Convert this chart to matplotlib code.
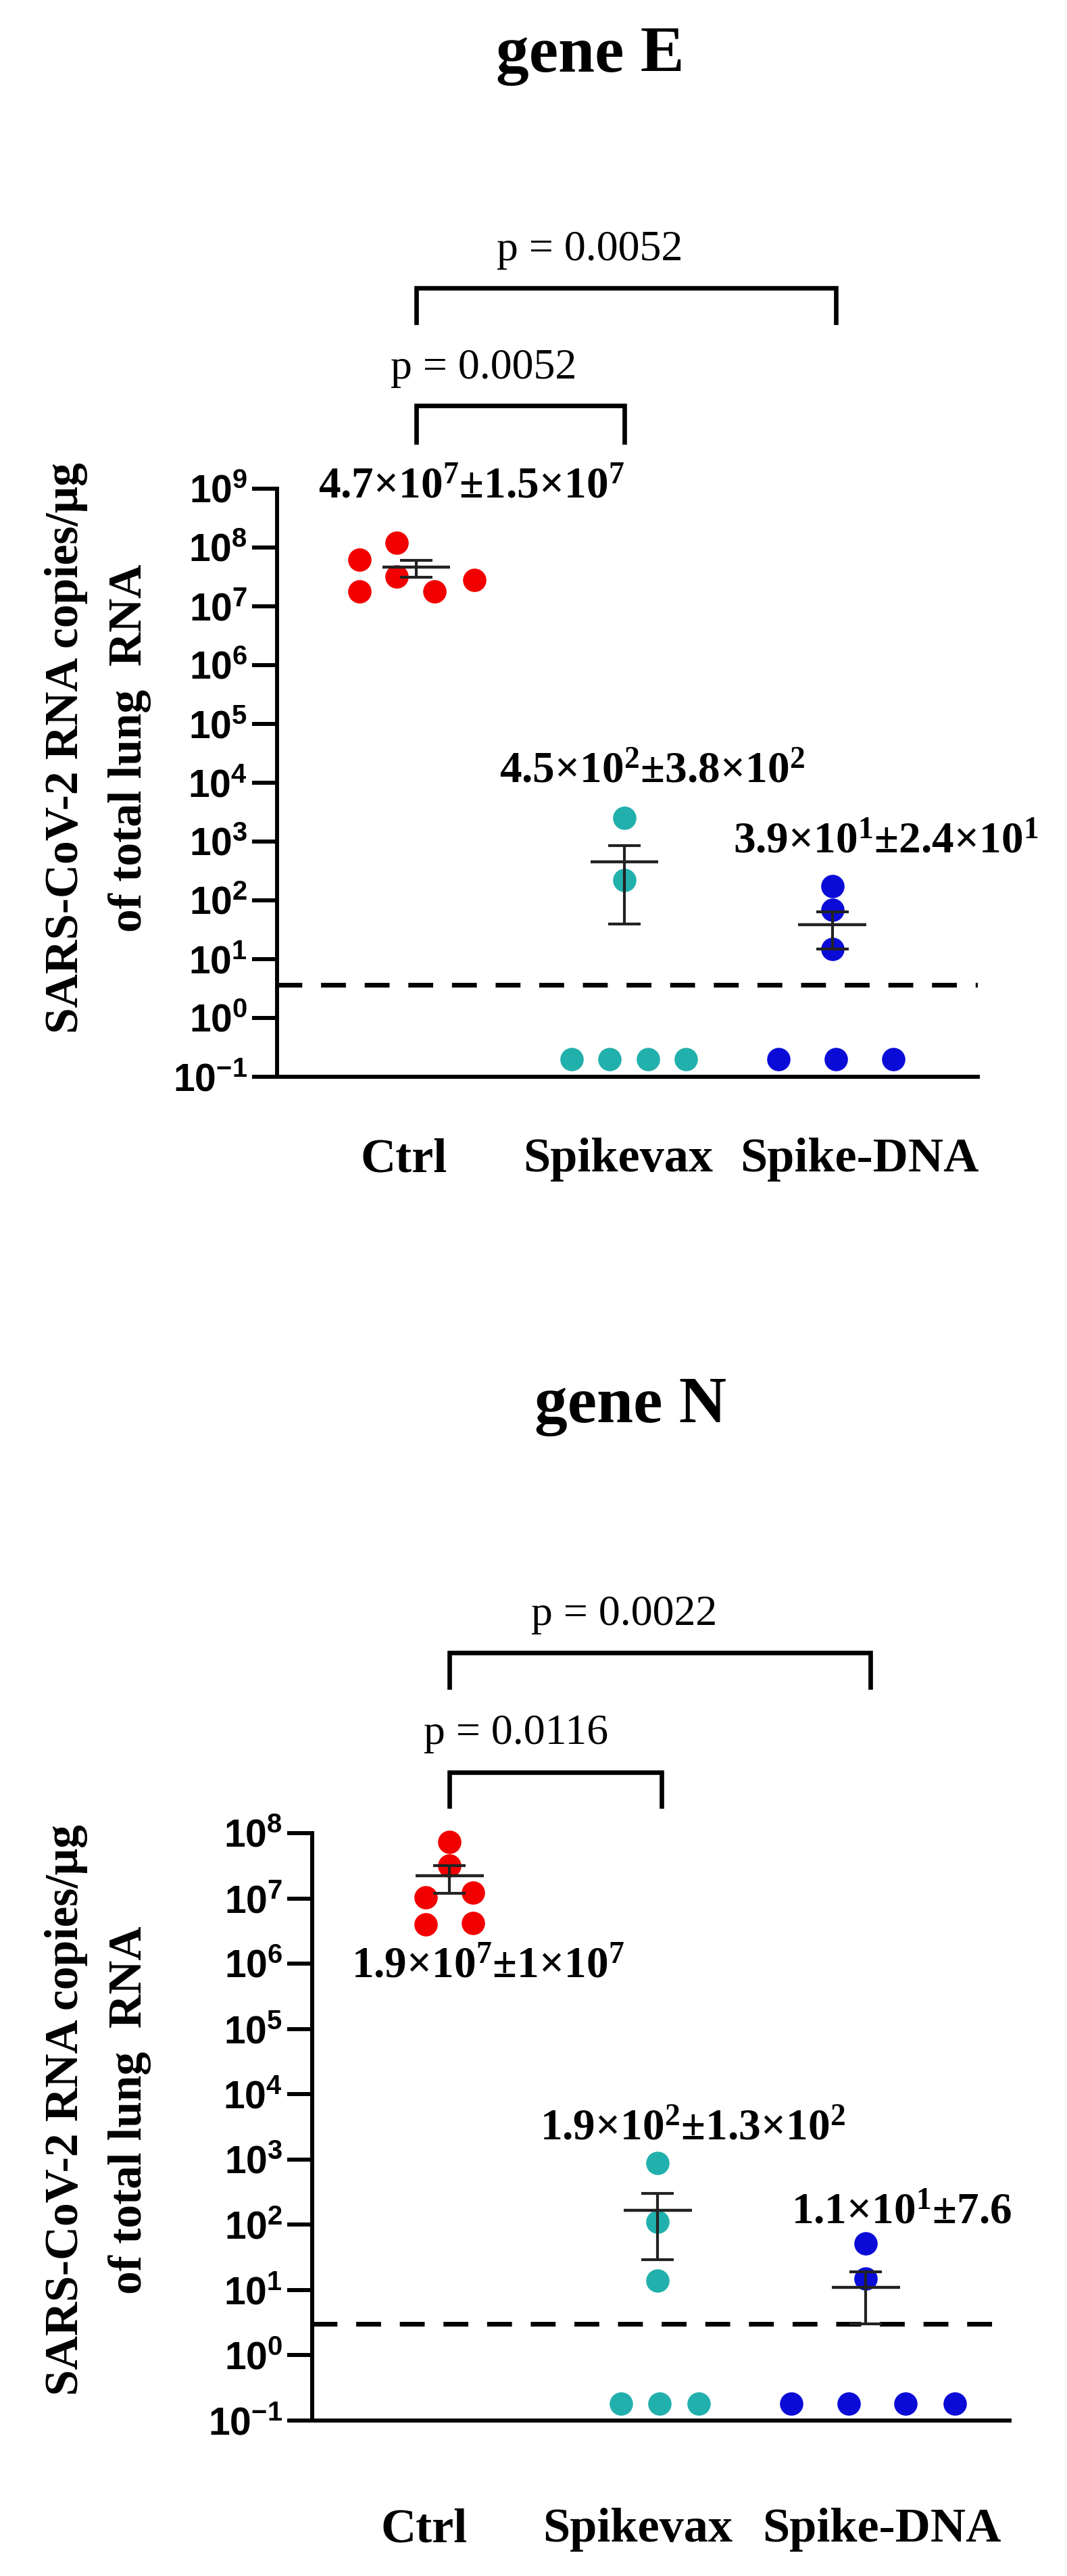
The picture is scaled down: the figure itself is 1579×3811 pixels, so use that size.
import numpy as np
import matplotlib
matplotlib.use("Agg")
import matplotlib.pyplot as plt
import matplotlib.transforms as mtransforms
from matplotlib.ticker import FixedLocator, FuncFormatter, NullLocator

# ---------------- data ----------------
groups = ["Ctrl", "Spikevax", "Spike-DNA"]
colors = ["#f20000", "#22b0ac", "#0b0bd8"]

# gene E (undetected samples drawn at the bottom value)
E_ctrl = [6.2e7, 1.2e8, 3.2e7, 1.8e7, 1.8e7, 2.8e7]
E_spikevax = [2.5e3, 2.2e2, 0.2, 0.2, 0.2, 0.2]
E_dna = [1.74e2, 6.9e1, 1.48e1, 0.2, 0.2, 0.2]
E_means = [4.6e7, 4.5e2, 3.9e1]
E_sems = [1.5e7, 4.1e2, 2.4e1]
E_lod = 3.7
E_labels = [r"$\mathbf{4.7{\times}10^{7}{\pm}1.5{\times}10^{7}}$",
            r"$\mathbf{4.5{\times}10^{2}{\pm}3.8{\times}10^{2}}$",
            r"$\mathbf{3.9{\times}10^{1}{\pm}2.4{\times}10^{1}}$"]
E_pvals = ["p = 0.0052", "p = 0.0052"]

# gene N
N_ctrl = [7.3e7, 3.2e7, 1.04e7, 1.23e7, 4.0e6, 4.2e6]
N_spikevax = [8.9e2, 1.12e2, 1.4e1, 0.18, 0.18, 0.18]
N_dna = [5.2e1, 1.5e1, 0.18, 0.18, 0.18, 0.18]
N_means = [2.2e7, 1.67e2, 1.1e1]
N_sems = [1.0e7, 1.38e2, 8.0]
N_lod = 3.05
N_labels = [r"$\mathbf{1.9{\times}10^{7}{\pm}1{\times}10^{7}}$",
            r"$\mathbf{1.9{\times}10^{2}{\pm}1.3{\times}10^{2}}$",
            r"$\mathbf{1.1{\times}10^{1}{\pm}7.6}$"]
N_pvals = ["p = 0.0116", "p = 0.0022"]

ylabel_1 = "SARS-CoV-2 RNA copies/\u03bcg"
ylabel_2 = "of total lung  RNA"

# ---------------- layout (positions, not data) ----------------
E_jitter = [[-0.273, -0.094, -0.094, -0.273, 0.088, 0.279],
            [0.0, 0.0, -0.253, -0.071, 0.114, 0.296],
            [0.0, 0.0, 0.0, -0.259, 0.018, 0.294]]
N_jitter = [[0.0, 0.0, -0.115, 0.113, -0.115, 0.113],
            [0.0, 0.0, 0.0, -0.177, 0.008, 0.197],
            [0.0, 0.0, -0.359, -0.083, 0.19, 0.427]]

plt.rcParams["font.family"] = ["Liberation Serif", "DejaVu Serif"]
plt.rcParams["mathtext.fontset"] = "custom"
plt.rcParams["mathtext.rm"] = "Liberation Serif"
plt.rcParams["mathtext.it"] = "Liberation Serif:italic"
plt.rcParams["mathtext.bf"] = "Liberation Serif:bold"
plt.rcParams["mathtext.sf"] = "Liberation Sans:bold"

W, H = 1579, 3811
fig = plt.figure(figsize=(W / 100, H / 100), dpi=100)
fig.patch.set_facecolor("white")


def px_axes(left, right, top, bottom):
    return fig.add_axes([left / W, 1 - bottom / H, (right - left) / W, (bottom - top) / H])


def draw_panel(ax, series, jitter, means, sems, lod, top_exp, labels, lab_pos,
               xlim, cat_pos, pvals, brackets, ptext_pos):
    ax.set_yscale("log")
    ax.set_ylim(0.1, 10.0 ** top_exp)
    ax.set_xlim(*xlim)
    ax.patch.set_alpha(0)
    for s in ["top", "right"]:
        ax.spines[s].set_visible(False)
    for s in ["left", "bottom"]:
        ax.spines[s].set_linewidth(4.3)
    ax.yaxis.set_major_locator(FixedLocator([10.0 ** e for e in range(-1, top_exp + 1)]))
    ax.yaxis.set_minor_locator(NullLocator())
    ax.yaxis.set_major_formatter(FuncFormatter(
        lambda v, p: r"$\mathsf{10^{%d}}$" % int(round(np.log10(v)))))
    ax.tick_params(axis="y", length=26.5, width=4.3, pad=5, labelsize=41)
    ax.set_xticks([])

    for i, (vals, dx) in enumerate(zip(series, jitter)):
        xs = i + np.array(dx)
        ax.scatter(xs, vals, s=620, color=colors[i], edgecolors=colors[i],
                   linewidths=0, zorder=2, clip_on=False)
        ax.errorbar(i, means[i], yerr=sems[i], fmt="none", ecolor="#222222",
                    elinewidth=3.0, capsize=17, capthick=3.0, zorder=4)
        ax.hlines(means[i], i - 0.163, i + 0.163, colors="#222222", lw=3.2, zorder=4)

    ax.axhline(lod, color="black", lw=5, dashes=(5.3, 4.0), zorder=1)

    trans = mtransforms.blended_transform_factory(ax.transData, ax.transAxes)
    for txt, (x, y) in zip(labels, lab_pos):
        ax.text(x, y, txt, transform=trans, ha="center", va="baseline",
                fontsize=47, clip_on=False)
    for g, x in zip(groups, cat_pos[0]):
        ax.text(x, cat_pos[1], g, transform=trans, ha="center", va="baseline",
                fontsize=52, fontweight="bold")
    for (x1, x2, yb, ye), pt, (tx, ty) in zip(brackets, pvals, ptext_pos):
        ax.plot([x1, x1, x2, x2], [ye, yb, yb, ye], color="black", lw=4.8,
                transform=trans, clip_on=False, solid_joinstyle="miter")
        ax.text(tx, ty, pt, transform=trans, ha="center", va="baseline", fontsize=46)


# ---------------- gene E ----------------
axE = px_axes(410, 1447, 723, 1593)
draw_panel(axE, [E_ctrl, E_spikevax, E_dna], E_jitter, E_means, E_sems, E_lod, 9,
           E_labels, [(0.263, 0.986), (1.134, 0.502), (2.258, 0.382)],
           (-0.67, 2.70), ([-0.059, 0.971, 2.131], -0.161),
           E_pvals, [(0.0, 1.0, 1.141, 1.079), (0.0, 2.018, 1.341, 1.283)],
           [(0.324, 1.187), (0.835, 1.389)])
fig.text(873 / W, 1 - 106 / H, "gene E", ha="center", va="baseline",
         fontsize=70, fontweight="bold")
fig.text(98 / W, 1 - 1107 / H, ylabel_1, rotation=90, ha="center", va="center",
         fontsize=50, fontweight="bold")
fig.text(192 / W, 1 - 1107 / H, ylabel_2, rotation=90, ha="center", va="center",
         fontsize=50, fontweight="bold")

# ---------------- gene N ----------------
axN = px_axes(462, 1494, 2712, 3581)
draw_panel(axN, [N_ctrl, N_spikevax, N_dna], N_jitter, N_means, N_sems, N_lod, 8,
           N_labels, [(0.184, 0.755), (1.167, 0.479), (2.17, 0.337)],
           (-0.66, 2.69), ([-0.121, 0.904, 2.076], -0.206),
           N_pvals, [(0.0, 1.018, 1.104, 1.046), (0.0, 2.02, 1.307, 1.249)],
           [(0.32, 1.152), (0.84, 1.354)])
fig.text(933 / W, 1 - 2104 / H, "gene N", ha="center", va="baseline",
         fontsize=70, fontweight="bold")
fig.text(98 / W, 1 - 3122 / H, ylabel_1, rotation=90, ha="center", va="center",
         fontsize=50, fontweight="bold")
fig.text(192 / W, 1 - 3122 / H, ylabel_2, rotation=90, ha="center", va="center",
         fontsize=50, fontweight="bold")

fig.savefig("out.png", dpi=100, facecolor="white")
